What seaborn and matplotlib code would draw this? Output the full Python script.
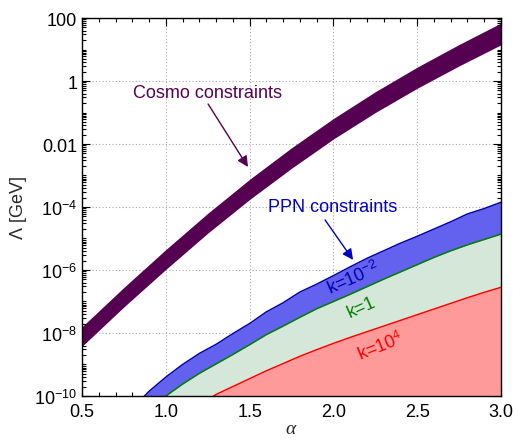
import numpy as np
import pandas as pd
import matplotlib
matplotlib.use("Agg")
import matplotlib.pyplot as plt
from matplotlib.ticker import FixedLocator, FixedFormatter, MultipleLocator, NullFormatter
import seaborn as sns

# Cosmological constraint band: log10(Lambda / GeV) upper and lower edges
cosmo_alpha = [0.5, 0.75, 1.0, 1.25, 1.5, 1.75, 2.0, 2.25, 2.5, 2.75, 3.0]
cosmo_upper_log = [-7.8, -6.55, -5.35, -4.2, -3.12, -2.12, -1.19, -0.34, 0.44, 1.16, 1.84]
cosmo_lower_log = [-8.42, -7.17, -5.98, -4.83, -3.76, -2.77, -1.84, -1.0, -0.23, 0.48, 1.15]

# PPN constraints for three values of k: log10(Lambda / GeV)
ppn_alpha = [0.8, 0.9, 1.0, 1.1, 1.2, 1.3, 1.4, 1.5, 1.6, 1.7, 1.8, 1.9,
             2.0, 2.1, 2.2, 2.3, 2.4, 2.5, 2.6, 2.7, 2.8, 2.9, 3.0]
ppn_k_em2_log = [-10.4, -9.85, -9.4, -9.0, -8.65, -8.36, -8.02, -7.7, -7.33, -7.04,
                 -6.7, -6.45, -6.18, -5.9, -5.63, -5.39, -5.15, -4.93, -4.7, -4.47,
                 -4.22, -4.05, -3.85]
ppn_k_1_log = [-10.8, -10.4, -10.0, -9.62, -9.28, -8.98, -8.68, -8.37, -8.05, -7.78,
               -7.5, -7.23, -7.0, -6.77, -6.53, -6.29, -6.06, -5.83, -5.6, -5.39,
               -5.2, -5.03, -4.86]
ppn_k_e4_log = [-11.6, -11.3, -11.0, -10.65, -10.3, -9.95, -9.7, -9.45, -9.2, -8.97,
                -8.74, -8.53, -8.33, -8.14, -7.96, -7.78, -7.6, -7.42, -7.24, -7.06,
                -6.88, -6.71, -6.55]

ytick_values = [1e2, 1e0, 1e-2, 1e-4, 1e-6, 1e-8, 1e-10]
ytick_labels = ["100", "1", "0.01", r"$10^{-4}$", r"$10^{-6}$", r"$10^{-8}$", r"$10^{-10}$"]
xtick_values = [0.5, 1.0, 1.5, 2.0, 2.5, 3.0]
xtick_labels = ["0.5", "1.0", "1.5", "2.0", "2.5", "3.0"]

COSMO = "#550050"
BLUE_FILL = "#6262ee"
BLUE_LINE = "#0000b0"
BLUE_TEXT = "#0000c0"
GREEN_FILL = "#d5e7d8"
GREEN_LINE = "#008000"
RED_FILL = "#ff9a9a"
RED_LINE = "#ff0000"

sns.set_style("ticks")
plt.rcParams["font.family"] = ["Liberation Sans", "DejaVu Sans"]
plt.rcParams["mathtext.fontset"] = "custom"
plt.rcParams["mathtext.rm"] = "Liberation Sans"
plt.rcParams["mathtext.it"] = "Liberation Serif:italic"

cosmo = pd.DataFrame({
    "alpha": cosmo_alpha,
    "upper": 10.0 ** np.array(cosmo_upper_log),
    "lower": 10.0 ** np.array(cosmo_lower_log),
})
ppn = pd.DataFrame({
    "alpha": ppn_alpha,
    "k_em2": 10.0 ** np.array(ppn_k_em2_log),
    "k_1": 10.0 ** np.array(ppn_k_1_log),
    "k_e4": 10.0 ** np.array(ppn_k_e4_log),
})

fig = plt.figure(figsize=(5.13, 4.39), dpi=100)
ax = fig.add_axes([0.16, 0.0957, 0.8166, 0.861])
ax.set_yscale("log")

# Cosmology band
ax.fill_between(cosmo["alpha"], cosmo["lower"], cosmo["upper"],
                color=COSMO, lw=0, zorder=3)

# PPN regions
ax.fill_between(ppn["alpha"], 1e-13, ppn["k_e4"], color=RED_FILL, lw=0, zorder=2)
ax.fill_between(ppn["alpha"], ppn["k_e4"], ppn["k_1"], color=GREEN_FILL, lw=0, zorder=2)
ax.fill_between(ppn["alpha"], ppn["k_1"], ppn["k_em2"], color=BLUE_FILL, lw=0, zorder=2)
sns.lineplot(data=ppn, x="alpha", y="k_em2", color=BLUE_LINE, lw=1.1, ax=ax, zorder=4)
sns.lineplot(data=ppn, x="alpha", y="k_1", color=GREEN_LINE, lw=1.1, ax=ax, zorder=4)
sns.lineplot(data=ppn, x="alpha", y="k_e4", color=RED_LINE, lw=1.1, ax=ax, zorder=4)

ax.set_xlim(0.5, 3.0)
ax.set_ylim(1e-10, 1e2)

# Ticks: labelled decades every two, unlabelled ticks in between
ax.yaxis.set_major_locator(FixedLocator(ytick_values))
ax.yaxis.set_major_formatter(FixedFormatter(ytick_labels))
minor_y = [m * 10.0 ** e for e in range(-10, 2) for m in range(1, 10)
           if not (m == 1 and e % 2 == 0)]
ax.yaxis.set_minor_locator(FixedLocator(minor_y))
ax.yaxis.set_minor_formatter(NullFormatter())
ax.xaxis.set_major_locator(FixedLocator(xtick_values))
ax.xaxis.set_major_formatter(FixedFormatter(xtick_labels))
ax.xaxis.set_minor_locator(MultipleLocator(0.1))
ax.xaxis.set_minor_formatter(NullFormatter())
ax.tick_params(which="both", direction="in", top=True, right=True, colors="black",
               labelsize=13, width=0.8)
ax.tick_params(which="major", length=6)
ax.tick_params(which="minor", length=3)
ax.tick_params(axis="x", pad=5)

ax.grid(True, which="major", ls=(0, (1, 2)), color="#a8a8a8", lw=0.8, zorder=1)
for s in ax.spines.values():
    s.set_linewidth(1.0)
    s.set_color("black")
    s.set_zorder(6)

ax.set_xlabel(r"$\alpha$", fontsize=14, labelpad=0)
ax.set_ylabel(r"$\Lambda$ [GeV]", fontsize=13, labelpad=4)

# Annotations: labels and their arrows
ax.text(1.246, 10 ** -0.38, "Cosmo constraints", color=COSMO, fontsize=13,
        ha="center", va="center", zorder=5)
ax.annotate("", xy=(1.49, 10 ** -2.73), xytext=(1.252, 10 ** -0.73),
            arrowprops=dict(arrowstyle="-|>", color=COSMO, lw=1.0, mutation_scale=16,
                            shrinkA=0, shrinkB=0), zorder=5)
ax.text(1.998, 10 ** -3.97, "PPN constraints", color=BLUE_TEXT, fontsize=13,
        ha="center", va="center", zorder=5)
ax.annotate("", xy=(2.117, 10 ** -5.68), xytext=(1.95, 10 ** -4.41),
            arrowprops=dict(arrowstyle="-|>", color=BLUE_TEXT, lw=1.0, mutation_scale=16,
                            shrinkA=0, shrinkB=0), zorder=5)

ax.text(2.119, 10 ** -6.23, r"k=10$^{-2}$", color=BLUE_LINE, fontsize=13, rotation=24,
        ha="center", va="center", rotation_mode="anchor", zorder=5)
ax.text(2.169, 10 ** -7.18, "k=1", color=GREEN_LINE, fontsize=13, rotation=24,
        ha="center", va="center", rotation_mode="anchor", zorder=5)
ax.text(2.278, 10 ** -8.4, r"k=10$^{4}$", color=RED_LINE, fontsize=13, rotation=22,
        ha="center", va="center", rotation_mode="anchor", zorder=5)

fig.savefig("out.png", dpi=100)
